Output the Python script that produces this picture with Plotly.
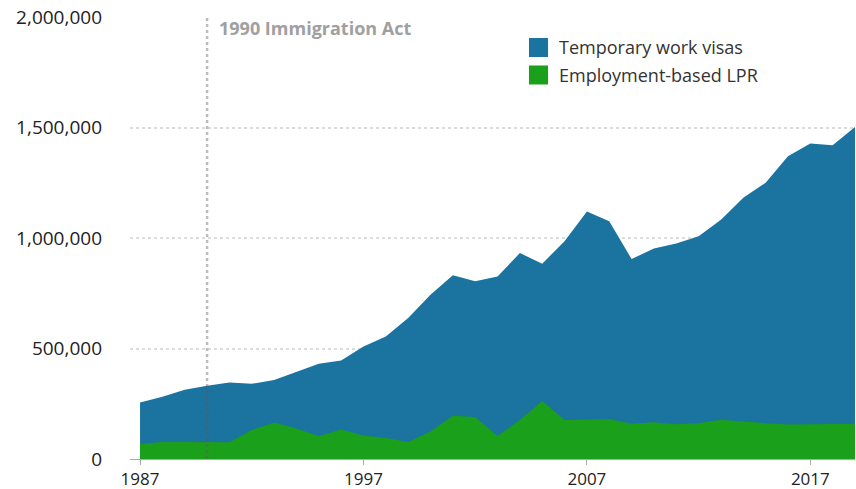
import plotly.graph_objects as go

years = list(range(1987, 2020))
temporary_work_visas = [
    256000, 282000, 313000, 332000, 346000, 340000, 358000, 396000, 431000, 446000,
    509000, 554000, 638000, 743000, 831000, 804000, 826000, 932000, 884000, 985000,
    1120000, 1076000, 905000, 952000, 975000, 1008000, 1083000, 1182000, 1250000, 1370000,
    1428000, 1420000, 1502000,
]
employment_based_lpr = [
    68000, 77000, 77000, 76000, 76000, 131000, 165000, 138000, 104000, 134000,
    106000, 95000, 77000, 124000, 196000, 190000, 104000, 177000, 263000, 177000,
    180000, 181000, 160000, 166000, 157000, 163000, 178000, 169000, 162000, 156000,
    156000, 156000, 159000,
]
series_names = ["Temporary work visas", "Employment-based LPR"]
y_ticks = [0, 500000, 1000000, 1500000, 2000000]
x_ticks = [1987, 1997, 2007, 2017]
act_year = 1990
act_label = "1990 Immigration Act"

FONT = "Open Sans"
BLUE = "#1b73a0"
GREEN = "#1aa01a"
COLORS = [BLUE, GREEN]

fig = go.Figure()
fig.add_trace(go.Scatter(
    x=years, y=temporary_work_visas, name=series_names[0], showlegend=False,
    mode="lines", fill="tozeroy", line=dict(width=0, color=BLUE), fillcolor=BLUE,
    hoverinfo="skip",
))
fig.add_trace(go.Scatter(
    x=years, y=employment_based_lpr, name=series_names[1], showlegend=False,
    mode="lines", fill="tozeroy", line=dict(width=0, color=GREEN), fillcolor=GREEN,
    hoverinfo="skip",
))

fig.add_shape(type="line", xref="x", yref="paper", x0=act_year, x1=act_year,
              y0=0, y1=1, line=dict(color="rgba(90,90,90,0.4)", width=2.5, dash="dot"),
              layer="above")
fig.add_annotation(x=act_year, y=1, xref="x", yref="paper", text="<b>" + act_label + "</b>",
                   showarrow=False, xanchor="left", yanchor="top", xshift=10, yshift=3,
                   font=dict(family=FONT, size=18, color="#a0a0a0"))

# Custom legend (square swatches + labels), placed in paper coordinates
legend_x0, legend_sw = 0.5503, 0.0263
legend_rows = [(0.9095, 0.9525), (0.8473, 0.8903)]
for name, col, (yb, yt) in zip(series_names, COLORS, legend_rows):
    fig.add_shape(type="rect", xref="paper", yref="paper",
                  x0=legend_x0, x1=legend_x0 + legend_sw, y0=yb, y1=yt,
                  fillcolor=col, line=dict(width=0), layer="above")
    fig.add_annotation(x=legend_x0 + legend_sw + 0.0124, y=(yb + yt) / 2,
                       xref="paper", yref="paper", text=name, showarrow=False,
                       xanchor="left", yanchor="middle",
                       font=dict(family=FONT, size=18, color="#333"))

fig.update_layout(
    width=856, height=489,
    margin=dict(l=130, r=1, t=17, b=30),
    paper_bgcolor="white", plot_bgcolor="white",
    showlegend=False,
    font=dict(family=FONT, size=18, color="#222"),
)
fig.update_xaxes(
    range=[1986.55, 2019], tickvals=x_ticks, ticktext=[str(v) for v in x_ticks],
    showgrid=False, zeroline=False, showline=True, linecolor="#aaa", linewidth=1,
    ticks="outside", ticklen=5, tickcolor="#aaa", automargin=False,
    tickfont=dict(family=FONT, size=17, color="#222"),
)
fig.update_yaxes(
    range=[0, 2000000], tickvals=y_ticks, tickformat=",",
    showgrid=True, gridcolor="#dcdcdc", griddash="dot", gridwidth=2,
    zeroline=False, ticks="", ticklabelstandoff=27, automargin=False,
    tickfont=dict(family=FONT, size=19, color="#222"),
)

fig.write_html("out.html", config={"displayModeBar": False},
               post_script="document.body.style.margin='0';")
